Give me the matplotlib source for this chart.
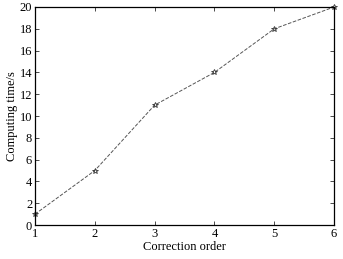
import matplotlib
matplotlib.use("Agg")
import matplotlib.pyplot as plt

# correction order vs computing time
orders = [1, 2, 3, 4, 5, 6]
times = [1, 5, 11, 14, 18, 20]

plt.rcParams['font.family'] = ['Liberation Serif', 'DejaVu Serif']

fig = plt.figure(figsize=(3.43, 2.59), dpi=100)
ax = fig.add_axes([0.102, 0.131, 0.872, 0.842])

ax.plot(orders, times, linestyle="--", color="#555555", linewidth=0.7,
        marker="*", markersize=4, markerfacecolor="none", markeredgecolor="#333333",
        markeredgewidth=0.6, clip_on=False)

ax.set_xlim(1, 6)
ax.set_ylim(0, 20)
ax.set_xticks(orders)
ax.set_yticks(range(0, 21, 2))
ax.tick_params(direction="in", top=True, right=True, labelsize=9, length=3, width=0.5, pad=2)
for s in ax.spines.values():
    s.set_linewidth(0.9)
ax.set_xlabel("Correction order", fontsize=9, labelpad=1)
ax.set_ylabel("Computing time/s", fontsize=9, labelpad=1)

fig.savefig("out.png", dpi=100)
